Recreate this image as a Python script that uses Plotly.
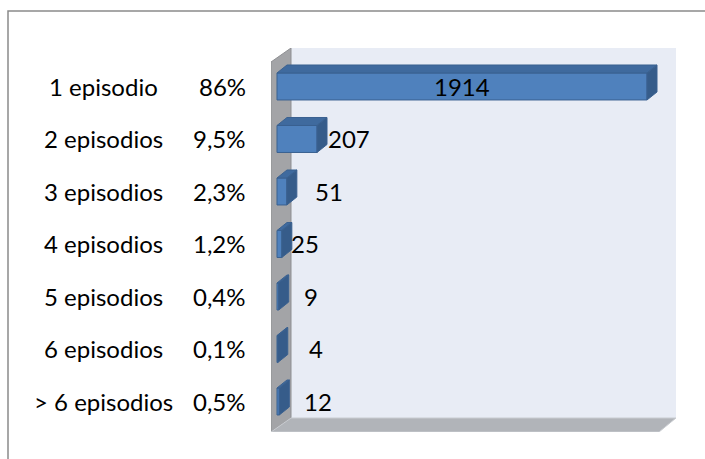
import plotly.graph_objects as go

# Episodes per patient: counts and share of total
categories = ["1 episodio", "2 episodios", "3 episodios", "4 episodios",
              "5 episodios", "6 episodios", "> 6 episodios"]
percent_labels = ["86%", "9,5%", "2,3%", "1,2%", "0,4%", "0,1%", "0,5%"]
counts = [1914, 207, 51, 25, 9, 4, 12]

# Figure geometry
W, H = 705, 459
ML, MR, MT, MB = 271, 29, 48, 27
X_RANGE = [-31, 2064]
Y_RANGE = [6.581, -0.733]          # reversed so the first category sits on top
BAR_W = 0.514

plot_w = W - ML - MR
plot_h = H - MT - MB
ux = (X_RANGE[1] - X_RANGE[0]) / plot_w   # data units per pixel (x)
uy = (Y_RANGE[0] - Y_RANGE[1]) / plot_h   # data units per pixel (y)


def px_x(px):
    return X_RANGE[0] + (px - ML) * ux


def px_y(py):
    return Y_RANGE[1] + (py - MT) * uy


def path(points):
    return "M " + " L ".join(f"{x:.4f},{y:.4f}" for x, y in points) + " Z"


FONT = "Lato"
FONT_SIZE = 24
FRONT = "#4F81BD"
TOP = "#3F6A9E"
SIDE = "#365C8A"
EDGE = "#3A6190"

# Bar depth (px) for the 3-D look
BDX, BDY = 10, 8
ddx, ddy = BDX * ux, BDY * uy

shapes = []

# Chart frame (top and left edges visible)
shapes.append(dict(type="path", xref="paper", yref="paper",
                   path=f"M {(W + 5 - ML) / plot_w},{(H - MB - 11) / plot_h} "
                        f"L {(8 - ML) / plot_w},{(H - MB - 11) / plot_h} "
                        f"L {(8 - ML) / plot_w},{(H - MB - H - 5) / plot_h}",
                   line=dict(color="#8A8A8A", width=1.5), layer="below"))

# Back wall
shapes.append(dict(type="path", xref="x", yref="y",
                   path=path([(px_x(291), px_y(48)), (px_x(676), px_y(48)),
                              (px_x(676), px_y(418)), (px_x(291), px_y(418))]),
                   fillcolor="#E8ECF5", line=dict(width=0), layer="below"))
# Side wall
shapes.append(dict(type="path", xref="x", yref="y",
                   path=path([(px_x(271), px_y(62)), (px_x(291), px_y(48)),
                              (px_x(291), px_y(418)), (px_x(271), px_y(432))]),
                   fillcolor="#A3A4A7", line=dict(color="#8E8F92", width=1), layer="below"))
# Floor
shapes.append(dict(type="path", xref="x", yref="y",
                   path=path([(px_x(271), px_y(432)), (px_x(291), px_y(418)),
                              (px_x(676), px_y(418)), (px_x(659), px_y(432))]),
                   fillcolor="#B1B4B9", line=dict(color="#C9CCD1", width=1), layer="below"))

# Top and side faces of each bar, built from its value
for i, v in enumerate(counts):
    y_top = i - BAR_W / 2
    y_bot = i + BAR_W / 2
    shapes.append(dict(type="path", xref="x", yref="y",
                       path=path([(0, y_top), (v, y_top), (v + ddx, y_top - ddy), (ddx, y_top - ddy)]),
                       fillcolor=TOP, line=dict(color=EDGE, width=1), layer="above"))
    shapes.append(dict(type="path", xref="x", yref="y",
                       path=path([(v, y_top), (v + ddx, y_top - ddy), (v + ddx, y_bot - ddy), (v, y_bot)]),
                       fillcolor=SIDE, line=dict(color=EDGE, width=1), layer="above"))

fig = go.Figure(go.Bar(
    x=counts, y=list(range(len(counts))), orientation="h", width=BAR_W,
    marker=dict(color=FRONT, line=dict(color=EDGE, width=1)),
    hoverinfo="skip",
))

annotations = []
# Value labels
label_gap = [0, 9, 26, 7, 23, 29, 23]
for i, v in enumerate(counts):
    if i == 0:
        annotations.append(dict(x=v / 2, y=i, xref="x", yref="y", text=str(v),
                                showarrow=False, xanchor="center", yanchor="middle"))
    else:
        annotations.append(dict(x=v, y=i, xref="x", yref="y", text=str(v),
                                showarrow=False, xanchor="left", yanchor="middle",
                                xshift=label_gap[i]))

# Category names and percentages to the left of the plot
for i, (name, pct) in enumerate(zip(categories, percent_labels)):
    annotations.append(dict(x=(103 - ML) / plot_w, y=i, xref="paper", yref="y",
                            text=name, showarrow=False, xanchor="center", yanchor="middle"))
    annotations.append(dict(x=(248 - ML) / plot_w, y=i, xref="paper", yref="y",
                            text=pct, showarrow=False, xanchor="right", yanchor="middle"))

fig.update_layout(
    width=W, height=H,
    margin=dict(l=ML, r=MR, t=MT, b=MB, pad=0),
    paper_bgcolor="white", plot_bgcolor="rgba(0,0,0,0)",
    showlegend=False,
    font=dict(family=FONT, size=FONT_SIZE, color="black"),
    xaxis=dict(range=X_RANGE, visible=False, fixedrange=True),
    yaxis=dict(range=Y_RANGE, visible=False, fixedrange=True),
    shapes=shapes,
    annotations=annotations,
)

fig.write_html("out.html")
